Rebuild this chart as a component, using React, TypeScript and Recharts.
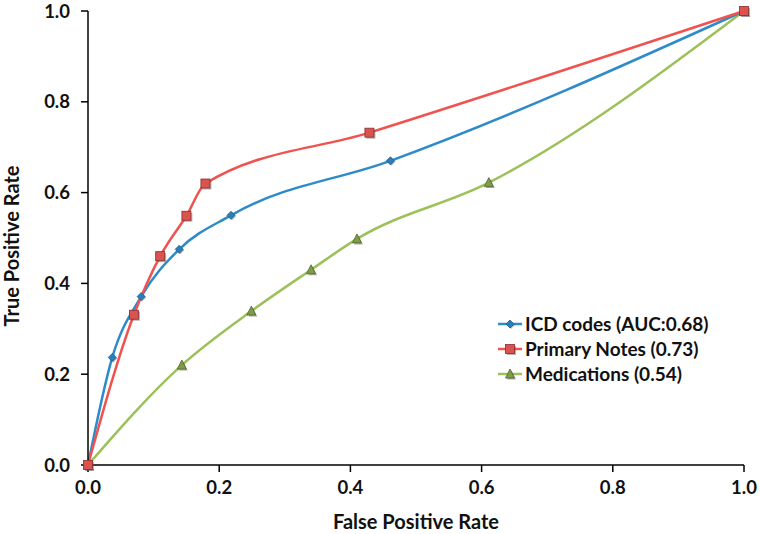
import { LineChart, Line, XAxis, YAxis } from 'recharts';

// ROC points (false positive rate / true positive rate)
const icdFpr = [0, 0.037, 0.081, 0.139, 0.218, 0.461, 1];
const icdTpr = [0, 0.237, 0.371, 0.475, 0.55, 0.67, 1];
const notesFpr = [0, 0.07, 0.11, 0.15, 0.179, 0.429, 1];
const notesTpr = [0, 0.331, 0.46, 0.549, 0.62, 0.732, 1];
const medFpr = [0, 0.143, 0.249, 0.34, 0.41, 0.611, 1];
const medTpr = [0, 0.22, 0.339, 0.43, 0.498, 0.622, 1];

const axisTicks = [0, 0.2, 0.4, 0.6, 0.8, 1];
const seriesNames = ['ICD codes (AUC:0.68)', 'Primary Notes (0.73)', 'Medications (0.54)'];

const toPoints = (xs: number[], ys: number[]) => xs.map((x, i) => ({ x, y: ys[i] }));

const font = 'Lato, "Open Sans", sans-serif';
const blue = '#2e8bc9';
const red = '#ef5350';
const green = '#9cc15a';

const Diamond = (props: any) => {
  const { cx, cy } = props;
  if (cx == null || cy == null) return null;
  return (
    <g>
      <path d={`M${cx + 1},${cy - 3} L${cx + 5},${cy + 1} L${cx + 1},${cy + 5} L${cx - 3},${cy + 1} Z`} fill="#555" opacity={0.45} />
      <path d={`M${cx},${cy - 4} L${cx + 4},${cy} L${cx},${cy + 4} L${cx - 4},${cy} Z`} fill="#2a7fbb" stroke="#1d5f8d" strokeWidth={0.8} />
    </g>
  );
};

const Square = (props: any) => {
  const { cx, cy } = props;
  if (cx == null || cy == null) return null;
  return (
    <g>
      <rect x={cx - 3} y={cy - 3} width={9} height={9} fill="#555" opacity={0.45} />
      <rect x={cx - 4.5} y={cy - 4.5} width={9} height={9} fill="#d9534f" stroke="#8f2d2a" strokeWidth={0.8} />
    </g>
  );
};

const Triangle = (props: any) => {
  const { cx, cy } = props;
  if (cx == null || cy == null) return null;
  return (
    <g>
      <path d={`M${cx + 1.5},${cy - 3.5} L${cx + 6},${cy + 5.5} L${cx - 3},${cy + 5.5} Z`} fill="#444" opacity={0.45} />
      <path d={`M${cx},${cy - 5} L${cx + 4.5},${cy + 4} L${cx - 4.5},${cy + 4} Z`} fill="#7f9d45" stroke="#4f6428" strokeWidth={0.8} />
    </g>
  );
};

const tickStyle = { fill: '#111', fontSize: 18.5, fontWeight: 700, fontFamily: font };
const titleStyle = { fontSize: 20, fontWeight: 700, fontFamily: font, fill: '#111' };

const legendItems = [
  { name: seriesNames[0], color: blue, Marker: Diamond },
  { name: seriesNames[1], color: red, Marker: Square },
  { name: seriesNames[2], color: green, Marker: Triangle },
];

export default function App() {
  return (
    <div style={{ position: 'fixed', left: 0, top: 0, width: 760, height: 534, background: '#fff' }}>
      <LineChart width={760} height={534} margin={{ top: 11, right: 16, bottom: 0, left: 0 }}>
        <XAxis
          type="number"
          dataKey="x"
          domain={[0, 1]}
          ticks={axisTicks}
          tickFormatter={(v: number) => v.toFixed(1)}
          tick={tickStyle}
          tickSize={7}
          tickMargin={9}
          height={69}
          axisLine={{ stroke: '#000', strokeWidth: 1.5 }}
          tickLine={{ stroke: '#000', strokeWidth: 1.5 }}
          allowDuplicatedCategory={false}
          label={{
            content: (p: any) => (
              <text
                x={p.viewBox.x + p.viewBox.width / 2}
                y={p.viewBox.y + 64}
                textAnchor="middle"
                style={titleStyle}
              >
                False Positive Rate
              </text>
            ),
          }}
        />
        <YAxis
          type="number"
          dataKey="y"
          domain={[0, 1]}
          ticks={axisTicks}
          tickFormatter={(v: number) => v.toFixed(1)}
          tick={tickStyle}
          tickSize={7}
          tickMargin={11}
          width={88}
          axisLine={{ stroke: '#000', strokeWidth: 1.5 }}
          tickLine={{ stroke: '#000', strokeWidth: 1.5 }}
          label={{
            content: (p: any) => {
              const cx = 19;
              const cy = p.viewBox.y + p.viewBox.height / 2 + 8;
              return (
                <text
                  x={cx}
                  y={cy}
                  transform={`rotate(-90 ${cx} ${cy})`}
                  textAnchor="middle"
                  style={titleStyle}
                >
                  True Positive Rate
                </text>
              );
            },
          }}
        />
        <Line
          data={toPoints(medFpr, medTpr)}
          dataKey="y"
          type="monotone"
          stroke={green}
          strokeWidth={2.5}
          dot={<Triangle />}
          activeDot={false}
          isAnimationActive={false}
          name={seriesNames[2]}
        />
        <Line
          data={toPoints(icdFpr, icdTpr)}
          dataKey="y"
          type="monotone"
          stroke={blue}
          strokeWidth={2.5}
          dot={<Diamond />}
          activeDot={false}
          isAnimationActive={false}
          name={seriesNames[0]}
        />
        <Line
          data={toPoints(notesFpr, notesTpr)}
          dataKey="y"
          type="monotone"
          stroke={red}
          strokeWidth={2.5}
          dot={<Square />}
          activeDot={false}
          isAnimationActive={false}
          name={seriesNames[1]}
        />
      </LineChart>
      <div style={{ position: 'absolute', left: 496, top: 311, fontFamily: font, fontWeight: 700, fontSize: 19, color: '#111' }}>
        {legendItems.map(({ name, color, Marker }) => (
          <div key={name} style={{ display: 'flex', alignItems: 'center', height: 25 }}>
            <svg width={28} height={16} style={{ marginRight: 1 }}>
              <line x1={2} y1={8} x2={26} y2={8} stroke={color} strokeWidth={2.5} />
              <Marker cx={14} cy={8} />
            </svg>
            <span style={{ whiteSpace: 'nowrap' }}>{name}</span>
          </div>
        ))}
      </div>
    </div>
  );
}
